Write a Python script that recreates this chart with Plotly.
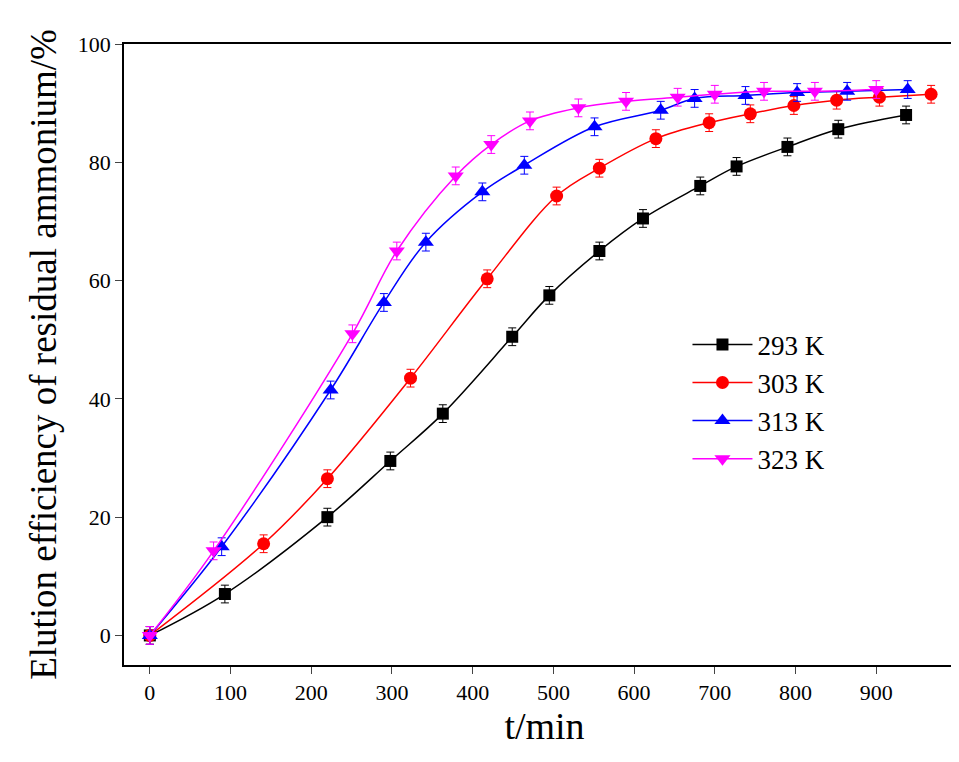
import plotly.graph_objs as go

t_293 = [0, 93, 220, 298, 363, 449, 495, 557, 611, 682, 727, 790, 853, 937]
e_293 = [0, 7, 20, 29.5, 37.5, 50.5, 57.5, 65, 70.5, 76, 79.3, 82.6, 85.6, 88]
t_303 = [0, 141, 220, 323, 418, 504, 557, 627, 693, 744, 798, 851, 904, 968]
e_303 = [0, 15.5, 26.5, 43.5, 60.3, 74.3, 79, 84, 86.7, 88.2, 89.6, 90.5, 91, 91.5]
t_313 = [0, 89, 224, 290, 342, 412, 464, 551, 633, 675, 738, 802, 864, 939]
e_313 = [0, 15, 41.5, 56.3, 66.5, 75, 79.5, 86, 88.8, 90.8, 91.3, 91.8, 92, 92.3]
t_323 = [0, 79, 251, 306, 379, 423, 471, 531, 590, 654, 700, 761, 824, 900]
e_323 = [0, 14.3, 51, 65, 77.7, 83, 87, 89.2, 90.3, 91, 91.5, 92, 92, 92.3]

series = [
    ('293 K', t_293, e_293, 'black', 'square', 12),
    ('303 K', t_303, e_303, 'red', 'circle', 13),
    ('313 K', t_313, e_313, 'blue', 'triangle-up', 14),
    ('323 K', t_323, e_323, 'magenta', 'triangle-down', 14),
]

fig = go.Figure()
for name, x, y, color, symbol, size in series:
    fig.add_trace(go.Scatter(x=x, y=y, name=name, mode='lines+markers',
                             line=dict(color=color, width=1.5, shape='spline'),
                             marker=dict(color=color, symbol=symbol, size=size),
                             error_y=dict(type='constant', value=1.5,
                                          color=color, thickness=1, width=4)))

font = dict(family='Liberation Serif', color='black')
fig.update_layout(
    width=959, height=762,
    margin=dict(l=116, r=0, t=36, b=105),
    plot_bgcolor='white', paper_bgcolor='white',
    font=dict(family='Liberation Serif', size=22, color='black'),
    legend=dict(x=0.67, y=0.555, xanchor='left', yanchor='top',
                font=dict(size=27, **font), bgcolor='rgba(0,0,0,0)',
                itemwidth=60, tracegroupgap=0),
    showlegend=True,
)
fig.update_xaxes(range=[-32, 1010], tickvals=list(range(0, 1000, 100)),
                 ticks='outside', ticklen=7, showline=True, linecolor='black',
                 linewidth=1.5, mirror=True, showgrid=False, zeroline=False,
                 title=dict(text='t/min', font=dict(size=38, **font), standoff=8))
fig.update_yaxes(range=[-5, 100], tickvals=list(range(0, 101, 20)),
                 ticks='outside', ticklen=7, showline=True, linecolor='black',
                 linewidth=1.5, mirror=True, showgrid=False, zeroline=False,
                 title=dict(text='Elution efficiency of residual ammonium/%',
                            font=dict(size=37, **font), standoff=10))
fig.write_html("out.html")
